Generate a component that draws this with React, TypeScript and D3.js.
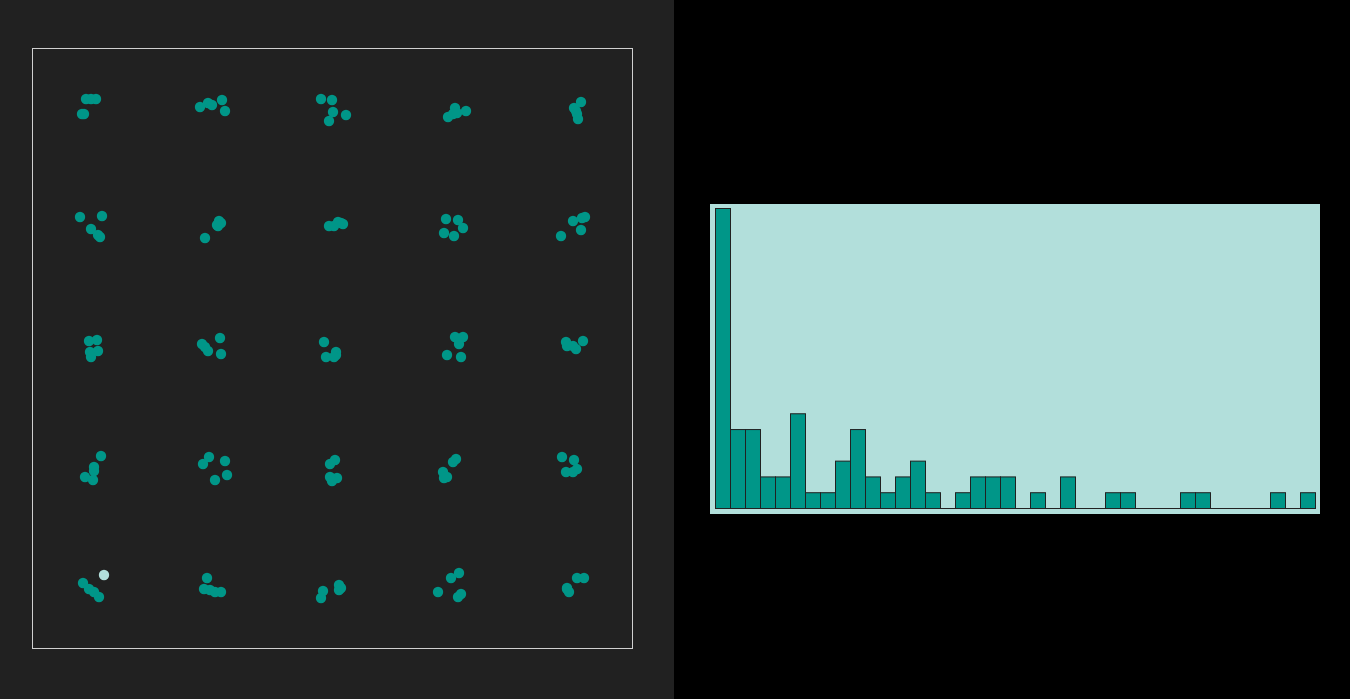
import { useEffect, useRef } from "react";
import * as d3 from "d3";

// 5x5 grid of small clusters; each point is [x, y] in cell units (0..120)
const clusters: [number, number][][] = [
  [[54, 51], [59, 51], [64, 51], [50, 66], [52, 66]],
  [[48, 59], [56, 55], [60, 57], [70, 52], [73, 63]],
  [[49, 51], [60, 52], [61, 64], [74, 67], [57, 73]],
  [[56, 69], [61, 66], [63, 60], [65, 65], [74, 63]],
  [[69, 54], [62, 60], [64, 63], [65, 66], [66, 71]],

  [[48, 49], [70, 48], [59, 61], [66, 67], [68, 69]],
  [[53, 70], [65, 57], [67, 53], [69, 55], [66, 58]],
  [[57, 58], [62, 58], [66, 54], [69, 55], [71, 56]],
  [[54, 51], [66, 52], [71, 60], [52, 65], [62, 68]],
  [[49, 68], [61, 53], [70, 50], [73, 49], [69, 62]],

  [[57, 53], [65, 52], [58, 64], [66, 63], [59, 69]],
  [[50, 56], [53, 59], [56, 63], [68, 50], [69, 66]],
  [[52, 54], [54, 69], [64, 64], [64, 67], [62, 69]],
  [[63, 49], [71, 49], [67, 56], [55, 67], [69, 69]],
  [[54, 54], [55, 58], [61, 58], [64, 61], [71, 53]],

  [[69, 48], [62, 59], [62, 63], [53, 69], [61, 72]],
  [[51, 56], [57, 49], [73, 53], [75, 67], [63, 72]],
  [[58, 56], [63, 52], [58, 69], [65, 70], [60, 73]],
  [[61, 54], [64, 51], [51, 64], [52, 70], [55, 69]],
  [[50, 49], [62, 52], [54, 64], [61, 64], [65, 61]],

  [[72, 47], [51, 55], [57, 61], [62, 64], [67, 69]],
  [[55, 50], [52, 61], [58, 62], [63, 64], [69, 64]],
  [[51, 63], [49, 70], [67, 57], [67, 62], [69, 60]],
  [[46, 64], [59, 50], [67, 45], [66, 69], [69, 66]],
  [[65, 50], [72, 50], [55, 60], [57, 64], [55, 61]],
];

// selected point: [cluster index, point index]
const highlighted: [number, number] = [20, 0];

// histogram bin counts (40 bins)
const binCounts = [
  19, 5, 5, 2, 2, 6, 1, 1, 3, 5, 2, 1, 2, 3, 1, 0, 1, 2, 2, 2,
  0, 1, 0, 2, 0, 0, 1, 1, 0, 0, 0, 1, 1, 0, 0, 0, 0, 1, 0, 1,
];

function App() {
  const ref = useRef<SVGSVGElement>(null);

  useEffect(() => {
    const svg = d3.select(ref.current);
    svg.selectAll("*").remove();

    const W = 1350, H = 699, half = 674;

    // left panel
    svg.append("rect").attr("width", half).attr("height", H).attr("fill", "#212121");
    svg.append("rect").attr("x", half).attr("width", W - half).attr("height", H).attr("fill", "#000");

    const grid = { left: 32, top: 48, size: 600, n: 5 };
    const cell = grid.size / grid.n;

    svg.append("rect")
      .attr("x", grid.left + 0.5)
      .attr("y", grid.top + 0.5)
      .attr("width", grid.size)
      .attr("height", grid.size)
      .attr("fill", "none")
      .attr("stroke", "#d0d0d0")
      .attr("stroke-width", 1);

    const local = d3.scaleLinear().domain([0, 120]).range([0, cell]);

    const g = svg.append("g").attr("transform", `translate(${grid.left},${grid.top})`);
    clusters.forEach((pts, i) => {
      const r = Math.floor(i / grid.n), c = i % grid.n;
      const cg = g.append("g").attr("transform", `translate(${c * cell},${r * cell})`);
      cg.selectAll("circle")
        .data(pts)
        .enter()
        .append("circle")
        .attr("cx", (d) => local(d[0]))
        .attr("cy", (d) => local(d[1]))
        .attr("r", 5.2)
        .attr("fill", (_, j) => (i === highlighted[0] && j === highlighted[1] ? "#b2dfdb" : "#009688"));
    });

    // right panel: histogram
    const panel = { x: 710, y: 204, w: 610, h: 310 };
    svg.append("rect")
      .attr("x", panel.x).attr("y", panel.y)
      .attr("width", panel.w).attr("height", panel.h)
      .attr("fill", "#b2dfdb");

    const plot = { x: 715, y: 208, w: 600, h: 300 };
    const x = d3.scaleBand<number>()
      .domain(d3.range(binCounts.length))
      .range([plot.x, plot.x + plot.w]);
    const y = d3.scaleLinear()
      .domain([0, d3.max(binCounts) as number])
      .range([plot.y + plot.h, plot.y]);

    // baseline (empty bins still show an edge)
    svg.append("line")
      .attr("x1", plot.x).attr("x2", plot.x + plot.w)
      .attr("y1", y(0) + 0.5).attr("y2", y(0) + 0.5)
      .attr("stroke", "#212121")
      .attr("stroke-width", 1);

    svg.append("g")
      .selectAll("rect")
      .data(binCounts.map((v, i) => ({ v, i })).filter((d) => d.v > 0))
      .enter()
      .append("rect")
      .attr("x", (d) => x(d.i)! + 0.5)
      .attr("y", (d) => y(d.v) + 0.5)
      .attr("width", x.bandwidth())
      .attr("height", (d) => y(0) - y(d.v))
      .attr("fill", "#009688")
      .attr("stroke", "#212121")
      .attr("stroke-width", 1);
  }, []);

  return (
    <div style={{ position: "fixed", left: 0, top: 0 }}>
      <svg ref={ref} width={1350} height={699} style={{ display: "block" }}></svg>
    </div>
  );
}

export default App;
